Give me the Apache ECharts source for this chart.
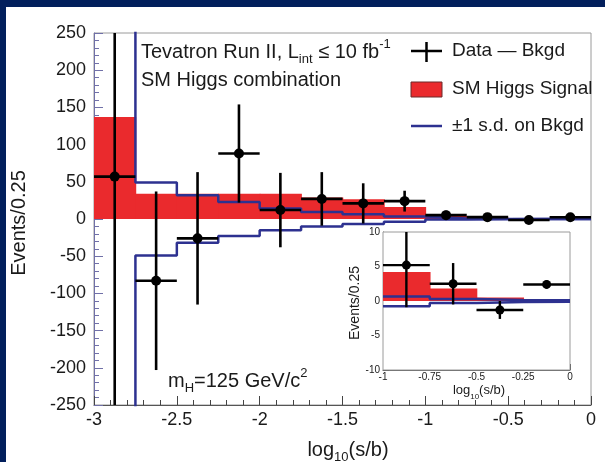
<!DOCTYPE html>
<html>
<head>
<meta charset="utf-8">
<script src="https://cdn.jsdelivr.net/npm/echarts@6/dist/echarts.min.js"></script>
<style>
  html, body { margin: 0; padding: 0; background: #fff; }
  #chart { width: 605px; height: 462px; }
</style>
</head>
<body>
<div id="chart"></div>
<script>
// Bin edges of log10(s/b), 0.25 wide
const binEdges = [-3, -2.75, -2.5, -2.25, -2, -1.75, -1.5, -1.25, -1, -0.75, -0.5, -0.25, 0];
const binCenters = [-2.875, -2.625, -2.375, -2.125, -1.875, -1.625, -1.375, -1.125, -0.875, -0.625, -0.375, -0.125];

// Expected SM Higgs signal per bin
const higgsSignal = [137, 34, 34, 34, 34, 29, 26.5, 16, 4.2, 1.8, 0.5, 0.3];

// +/-1 s.d. background uncertainty per bin
const bkgdUpper = [300, 49, 32, 23, 14, 9.5, 6.5, 3.3, 0.65, 0.3, 0.15, 0.12];
const bkgdLower = [-300, -49, -32, -23, -15, -10, -6.7, -3.6, -0.75, -0.3, -0.15, -0.12];

// Data minus background, with errors
const dataMinusBkgd = [57, -83, -26, 88, 12, 27, 21, 24, 5.2, 2.5, -1.3, 2.4];
const dataError = [330, 120, 89, 66, 50, 36, 27, 14, 6.1, 3, 1.3, 0.6];

// Axis ranges
const mainX = { min: -3, max: 0, interval: 0.5 };
const mainY = { min: -250, max: 250, interval: 50 };
const insetX = { min: -1, max: 0, interval: 0.25 };
const insetY = { min: -10, max: 10, interval: 5 };

const FONT = 'Liberation Sans, Arial, Helvetica, sans-serif';
const RED = '#ea2a2d';
const BLUE = '#2d3190';
const NAVY = '#021f5c';

function stepPoints(vals, fromEdge) {
  const pts = [];
  for (let i = 0; i < vals.length; i++) {
    if (binEdges[i] >= fromEdge) pts.push([binEdges[i], vals[i]]);
  }
  pts.push([binEdges[binEdges.length - 1], vals[vals.length - 1]]);
  return pts;
}

function signalBins(fromEdge) {
  const out = [];
  for (let i = 0; i < higgsSignal.length; i++) {
    if (binEdges[i] >= fromEdge) out.push([binEdges[i], binEdges[i + 1], higgsSignal[i]]);
  }
  return out;
}

function dataPoints(fromEdge) {
  const out = [];
  for (let i = 0; i < dataMinusBkgd.length; i++) {
    if (binEdges[i] >= fromEdge) out.push([binCenters[i], dataMinusBkgd[i], dataError[i], binEdges[i], binEdges[i + 1]]);
  }
  return out;
}

// Histogram bin as a filled rectangle; slight overlap hides seams between neighbours
function renderSignal(params, api) {
  const p0 = api.coord([api.value(0), api.value(2)]);
  const p1 = api.coord([api.value(1), 0]);
  return {
    type: 'rect',
    shape: { x: p0[0], y: Math.min(p0[1], p1[1]), width: p1[0] - p0[0] + 0.8, height: Math.abs(p1[1] - p0[1]) },
    style: { fill: RED }
  };
}

function makeErrRenderer(lw, r) {
  return function (params, api) {
    const x = api.value(0), y = api.value(1), e = api.value(2);
    const c = api.coord([x, y]);
    const top = api.coord([x, y + e]);
    const bot = api.coord([x, y - e]);
    const l = api.coord([api.value(3), y]);
    const rr = api.coord([api.value(4), y]);
    return {
      type: 'group',
      children: [
        { type: 'line', shape: { x1: top[0], y1: top[1], x2: bot[0], y2: bot[1] }, style: { stroke: '#000', lineWidth: lw } },
        { type: 'line', shape: { x1: l[0], y1: l[1], x2: rr[0], y2: rr[1] }, style: { stroke: '#000', lineWidth: lw } },
        { type: 'circle', shape: { cx: c[0], cy: c[1], r: r }, style: { fill: '#000' } }
      ]
    };
  };
}

function axisX(idx, range, fs, tickLen, minorLen, margin) {
  return {
    type: 'value', gridIndex: idx, min: range.min, max: range.max, interval: range.interval,
    axisLine: { onZero: false, lineStyle: { color: '#555', width: 1 } },
    axisTick: { inside: true, length: tickLen, lineStyle: { color: '#444', width: 1 } },
    minorTick: { show: true, splitNumber: 5, length: minorLen, lineStyle: { color: '#444', width: 1 } },
    axisLabel: { fontSize: fs, color: '#1a1a1a', fontFamily: FONT, margin: margin },
    splitLine: { show: false }
  };
}

function axisY(idx, range, fs, tickLen, minorLen, margin, lineColor) {
  return {
    type: 'value', gridIndex: idx, min: range.min, max: range.max, interval: range.interval,
    axisLine: { onZero: false, lineStyle: { color: lineColor, width: 1 } },
    axisTick: { inside: true, length: tickLen, lineStyle: { color: lineColor, width: 1 } },
    minorTick: { show: true, splitNumber: 5, length: minorLen, lineStyle: { color: lineColor, width: 1 } },
    axisLabel: { fontSize: fs, color: '#1a1a1a', fontFamily: FONT, margin: margin },
    splitLine: { show: false }
  };
}

function richText(x, y, text, base, opts) {
  const o = opts || {};
  const small = Math.round(base * 0.65);
  return {
    type: 'text', x: x, y: y, rotation: o.rotation || 0, z: 100,
    style: {
      text: text,
      align: o.align || 'left',
      verticalAlign: 'middle',
      rich: {
        a: { fontSize: base, lineHeight: base + 8, fontFamily: FONT, fill: '#1a1a1a' },
        s: { fontSize: small, lineHeight: small, fontFamily: FONT, fill: '#1a1a1a', verticalAlign: 'bottom' },
        p: { fontSize: small, lineHeight: small + 5, fontFamily: FONT, fill: '#1a1a1a', verticalAlign: 'top' }
      }
    }
  };
}

const chart = echarts.init(document.getElementById('chart'), null, { renderer: 'canvas' });

chart.setOption({
  animation: false,
  backgroundColor: '#fff',
  grid: [
    { left: 94, top: 33, width: 497, height: 372, show: true, borderColor: '#9a9a9a', borderWidth: 1, backgroundColor: '#fff' },
    { left: 383, top: 232, width: 187, height: 138, show: true, borderColor: '#9a9a9a', borderWidth: 1, backgroundColor: '#fff', z: 5 }
  ],
  xAxis: [
    axisX(0, mainX, 18, 9, 5, 6),
    axisX(1, insetX, 10, 6, 3, 2)
  ],
  yAxis: [
    axisY(0, mainY, 18, 9, 5, 8, '#7070a8'),
    axisY(1, insetY, 10, 6, 3, 3, '#444')
  ],
  series: [
    // main panel
    { type: 'custom', xAxisIndex: 0, yAxisIndex: 0, clip: true, z: 2, renderItem: renderSignal,
      encode: { x: [0, 1], y: 2 }, data: signalBins(-3) },
    { type: 'line', xAxisIndex: 0, yAxisIndex: 0, step: 'end', symbol: 'none', clip: true, z: 3,
      lineStyle: { color: BLUE, width: 2.5 }, data: stepPoints(bkgdUpper, -3) },
    { type: 'line', xAxisIndex: 0, yAxisIndex: 0, step: 'end', symbol: 'none', clip: true, z: 3,
      lineStyle: { color: BLUE, width: 2.5 }, data: stepPoints(bkgdLower, -3) },
    { type: 'custom', xAxisIndex: 0, yAxisIndex: 0, clip: true, z: 4, renderItem: makeErrRenderer(2.6, 5),
      encode: { x: 0, y: 1 }, data: dataPoints(-3) },
    // inset panel: the four highest s/b bins
    { type: 'custom', xAxisIndex: 1, yAxisIndex: 1, clip: true, z: 6, renderItem: renderSignal,
      encode: { x: [0, 1], y: 2 }, data: signalBins(-1) },
    { type: 'line', xAxisIndex: 1, yAxisIndex: 1, step: 'end', symbol: 'none', clip: true, z: 7,
      lineStyle: { color: BLUE, width: 2.5 }, data: stepPoints(bkgdUpper, -1) },
    { type: 'line', xAxisIndex: 1, yAxisIndex: 1, step: 'end', symbol: 'none', clip: true, z: 7,
      lineStyle: { color: BLUE, width: 2.5 }, data: stepPoints(bkgdLower, -1) },
    { type: 'custom', xAxisIndex: 1, yAxisIndex: 1, clip: true, z: 8, renderItem: makeErrRenderer(2.4, 4.5),
      encode: { x: 0, y: 1 }, data: dataPoints(-1) }
  ],
  graphic: [
    // navy frame strips
    { type: 'rect', shape: { x: 0, y: 0, width: 605, height: 7 }, style: { fill: NAVY }, z: 100 },
    { type: 'rect', shape: { x: 0, y: 0, width: 6, height: 462 }, style: { fill: NAVY }, z: 100 },

    richText(141, 52, '{a|Tevatron Run II, L}{s|int}{a| ≤ 10 fb}{p|-1}', 20),
    richText(141, 80, '{a|SM Higgs combination}', 20),
    richText(168, 381, '{a|m}{s|H}{a|=125 GeV/c}{p|2}', 20),

    // legend
    { type: 'line', shape: { x1: 411, y1: 51, x2: 442, y2: 51 }, style: { stroke: '#000', lineWidth: 2.5 }, z: 100 },
    { type: 'line', shape: { x1: 426.5, y1: 42, x2: 426.5, y2: 62 }, style: { stroke: '#000', lineWidth: 2.5 }, z: 100 },
    { type: 'rect', shape: { x: 411, y: 82, width: 31, height: 15 }, style: { fill: RED, stroke: '#6a2a2a', lineWidth: 1 }, z: 100 },
    { type: 'line', shape: { x1: 411, y1: 126, x2: 442, y2: 126 }, style: { stroke: BLUE, lineWidth: 2.5 }, z: 100 },
    richText(452, 51, '{a|Data — Bkgd}', 19),
    richText(452, 89, '{a|SM Higgs Signal}', 19),
    richText(452, 126, '{a|±1 s.d. on Bkgd}', 19),

    // axis titles
    richText(19, 223, '{a|Events/0.25}', 20, { align: 'center', rotation: Math.PI / 2 }),
    richText(348, 450, '{a|log}{s|10}{a|(s/b)}', 20, { align: 'center' }),
    richText(355, 303, '{a|Events/0.25}', 14, { align: 'center', rotation: Math.PI / 2 }),
    richText(479, 390, '{a|log}{s|10}{a|(s/b)}', 13, { align: 'center' })
  ]
});
</script>
</body>
</html>
